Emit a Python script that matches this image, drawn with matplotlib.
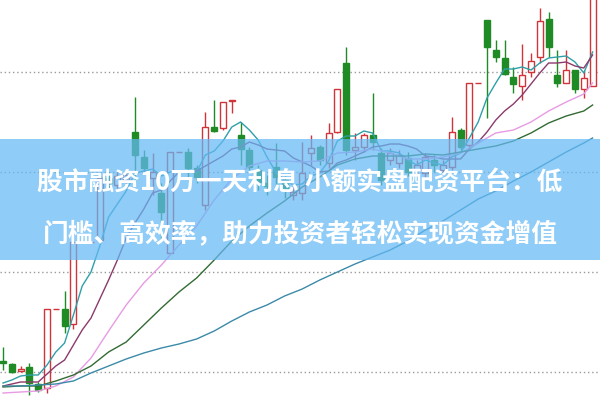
import matplotlib
matplotlib.use('Agg')
import matplotlib.pyplot as plt
from matplotlib.patches import Rectangle

# K线数据 (开/高/低/收)
opens = [39, 36, 29, 33, 16, 12, 91, 91, 76, 158, 158, 160, 222, 215, 220, 268, 243, 222, 207, 147,
         248, 248, 232, 195, 273, 272, 299, 265, 250, 230, 217, 233, 220, 205, 207, 247, 253, 237, 268, 337,
         250, 253, 265, 247, 240, 237, 242, 230, 227, 240, 230, 233, 270, 255, 317, 380, 350, 342, 323, 314,
         328, 343, 381, 325, 317, 330, 311, 314]
highs = [53, 37, 34, 37, 18, 91, 91, 109, 158, 158, 158, 225, 228, 228, 230, 303, 250, 247, 217, 248,
         248, 252, 235, 288, 300, 298, 300, 278, 253, 235, 225, 257, 224, 215, 258, 265, 255, 277, 311, 353,
         267, 267, 307, 252, 252, 250, 248, 240, 247, 245, 240, 283, 272, 317, 317, 380, 360, 360, 333, 356,
         347, 392, 388, 350, 350, 330, 330, 460]
lows = [30, 27, 28, 5, 8, 7, 91, 67, 71, 158, 158, 158, 210, 212, 215, 217, 227, 205, 160, 147,
        248, 223, 217, 190, 268, 270, 287, 235, 230, 210, 205, 215, 202, 200, 200, 235, 235, 232, 267, 245,
        240, 248, 250, 215, 235, 232, 224, 225, 222, 228, 225, 230, 250, 253, 317, 282, 338, 325, 307, 300,
        323, 337, 343, 313, 317, 307, 302, 314]
closes = [37, 28, 31, 17, 10, 91, 91, 74, 158, 158, 158, 222, 217, 224, 225, 245, 232, 228, 188, 248,
          248, 232, 223, 273, 269, 298, 300, 251, 233, 218, 214, 223, 210, 208, 227, 252, 240, 267, 311, 250,
          253, 265, 258, 220, 247, 245, 228, 235, 243, 235, 235, 268, 253, 317, 317, 353, 343, 326, 316, 325,
          339, 379, 353, 317, 330, 311, 322, 460]

# 均线
ma5 = [17, 20, 24, 25, 25, 35, 48, 57, 85, 114, 128, 154, 183, 196, 209, 227, 229, 231, 224, 228,
       229, 229, 228, 245, 249, 259, 273, 278, 270, 260, 243, 228, 220, 215, 216, 224, 227, 239, 259, 264,
       264, 269, 267, 249, 249, 247, 240, 235, 240, 237, 235, 243, 247, 262, 278, 302, 317, 331, 331, 333,
       330, 337, 342, 343, 344, 338, 327, 348]
ma10 = [14, 16, 18, 18, 18, 26, 34, 40, 55, 70, 82, 101, 120, 140, 162, 177, 191, 207, 210, 219,
        228, 229, 229, 234, 239, 244, 251, 253, 258, 255, 251, 250, 249, 242, 238, 234, 228, 229, 237, 240,
        244, 248, 253, 254, 256, 256, 254, 251, 244, 243, 241, 241, 241, 251, 258, 268, 280, 289, 296, 305,
        316, 327, 337, 337, 338, 334, 332, 345]
ma_x = list(range(0, 67, 2)) + [67]
ma20 = [7, 8, 9, 14, 23, 42, 69, 95, 117, 135, 155, 174, 200, 221, 234, 239, 239, 238, 239, 247,
        248, 251, 247, 241, 241, 243, 247, 257, 267, 270, 278, 289, 298, 306, 317]
ma30 = [13, 14, 14, 19, 25, 34, 48, 58, 75, 92, 108, 122, 140, 159, 174, 187, 199, 213, 223, 235,
        241, 244, 244, 244, 246, 245, 248, 251, 254, 259, 267, 277, 284, 289, 295]
ma60 = [14, 14, 15, 16, 19, 27, 34, 41, 47, 52, 56, 61, 69, 79, 88, 95, 104, 111, 120, 128,
        136, 143, 150, 159, 170, 179, 190, 201, 209, 219, 228, 238, 248, 257, 262]

grid_levels = [28, 128, 228, 328]

title_lines = ["股市融资10万一天利息 小额实盘配资平台：低",
               "门槛、高效率，助力投资者轻松实现资金增值"]

RED = '#d0343a'
GREEN = '#1f8b24'

fig = plt.figure(figsize=(6, 4), dpi=100)
ax = fig.add_axes([0, 0, 1, 1])
ax.set_xlim(-3 / 8.8, 597 / 8.8)
ax.set_ylim(0, 400)
ax.axis('off')

for g in grid_levels:
    ax.axhline(g, color='#9a9a9a', lw=1, linestyle=(0, (1, 2)), zorder=1)

w = 0.66
for i, (o, h, l, c) in enumerate(zip(opens, highs, lows, closes)):
    if o == c == h == l:
        ax.hlines(o, i - w / 2, i + w / 2, color=RED, lw=1, zorder=2)
        continue
    if c >= o:
        ax.vlines(i, c, h, color=RED, lw=1, zorder=2)
        ax.vlines(i, l, o, color=RED, lw=1, zorder=2)
        if c == o:
            ax.hlines(o, i - w / 2, i + w / 2, color=RED, lw=1, zorder=2)
        else:
            ax.add_patch(Rectangle((i - w / 2, o), w, c - o, fc='white', ec=RED, lw=1, zorder=2))
    else:
        ax.vlines(i, l, h, color=GREEN, lw=1, zorder=2)
        ax.add_patch(Rectangle((i - w / 2, c), w, o - c, fc=GREEN, ec=GREEN, lw=1, zorder=2))

ax.plot(range(len(ma5)), ma5, color='#2f9fa8', lw=1, zorder=3)
ax.plot(range(len(ma10)), ma10, color='#8b3a6b', lw=1, zorder=3)
ax.plot(ma_x, ma20, color='#e79be3', lw=1, zorder=3)
ax.plot(ma_x, ma30, color='#336b33', lw=1, zorder=3)
ax.plot(ma_x, ma60, color='#3b8aa8', lw=1, zorder=3)

# 标题横幅
fig.patches.append(Rectangle((0, 0.35), 1, 0.3025, transform=fig.transFigure,
                             fc='#64b9f5', alpha=0.72, ec='none', zorder=5))
fig.text(0.5, 0.5425, title_lines[0], ha='center', va='center', color='white',
         fontsize=18.5, fontweight='bold', family=['Noto Sans CJK SC', 'DejaVu Sans'], zorder=6)
fig.text(0.5, 0.415, title_lines[1], ha='center', va='center', color='white',
         fontsize=18.5, fontweight='bold', family=['Noto Sans CJK SC', 'DejaVu Sans'], zorder=6)

fig.savefig('out.png', dpi=100)
